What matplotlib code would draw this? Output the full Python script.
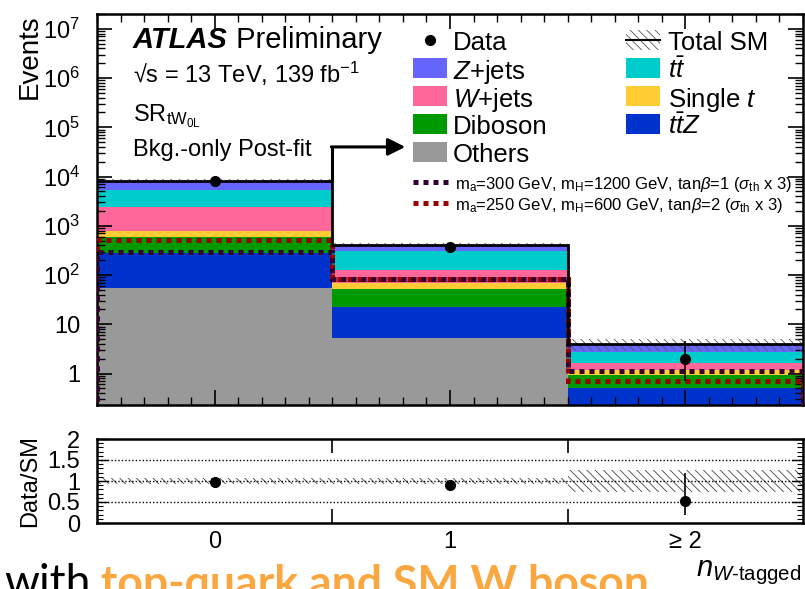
import matplotlib
matplotlib.use("Agg")
import matplotlib.pyplot as plt
import numpy as np
from matplotlib.patches import Rectangle
from matplotlib.lines import Line2D
from matplotlib.ticker import FixedLocator, MultipleLocator, NullFormatter, LogLocator

plt.rcParams['font.family'] = ['Liberation Sans', 'DejaVu Sans']
plt.rcParams['mathtext.fontset'] = 'custom'
plt.rcParams['mathtext.rm'] = 'Liberation Sans'
plt.rcParams['mathtext.it'] = 'Liberation Sans:italic'
plt.rcParams['mathtext.bf'] = 'Liberation Sans:bold'
plt.rcParams['hatch.linewidth'] = 0.6

# ---------------- data ----------------
categories = ["0", "1", "\u2265 2"]
others = [55.0, 5.3, 0.15]
ttz = [226.0, 17.2, 0.36]
diboson = [301.0, 30.5, 0.41]
single_t = [213.0, 16.0, 0.25]
wjets = [1605.0, 60.0, 0.48]
ttbar = [3000.0, 184.0, 1.10]
zjets = [2900.0, 101.0, 1.15]
data = [8200.0, 377.0, 2.0]
data_err_low = [91.0, 19.4, 1.29]
data_err_high = [91.0, 20.4, 2.64]
bkg_rel_unc = [0.06, 0.06, 0.27]
signal_ma300 = [293.0, 82.0, 1.11]
signal_ma250 = [505.0, 84.0, 0.70]

col_others = '#999999'
col_ttz = '#0033CC'
col_diboson = '#009900'
col_single_t = '#FFCC33'
col_wjets = '#FF6699'
col_ttbar = '#00CCCC'
col_zjets = '#6666FF'
col_sig300 = '#330033'
col_sig250 = '#990000'

W, H = 805, 589
def fx(px):
    return px / W
def fy(py):
    return 1 - py / H

fig = plt.figure(figsize=(8.05, 5.89), dpi=100)
ax = fig.add_axes([fx(97), fy(405), fx(803) - fx(97), fy(14) - fy(405)])
rax = fig.add_axes([fx(97), fy(523), fx(803) - fx(97), fy(439) - fy(523)])

x = np.arange(len(categories))
edges = np.arange(len(categories) + 1) - 0.5

stack = [(others, col_others), (ttz, col_ttz), (diboson, col_diboson),
         (single_t, col_single_t), (wjets, col_wjets), (ttbar, col_ttbar),
         (zjets, col_zjets)]
bottom = np.full(len(x), 1e-3)
for vals, c in stack:
    v = np.array(vals)
    ax.bar(x, v, bottom=bottom, width=1.0, color=c, lw=0, zorder=1)
    bottom = bottom + v
total = bottom - 1e-3
unc = np.array(bkg_rel_unc)

ax.bar(x, 2 * unc * total, bottom=total * (1 - unc), width=1.0, fill=False,
       hatch='\\\\\\\\', edgecolor='#555555', lw=0, zorder=2)
ax.stairs(signal_ma250, edges, baseline=1e-3, color=col_sig250, lw=3.6,
          linestyle=(0, (1, 1)), zorder=3)
ax.stairs(signal_ma300, edges, baseline=1e-3, color=col_sig300, lw=3.6,
          linestyle=(0, (1, 1)), zorder=3)
ax.stairs(total, edges, baseline=None, color='k', lw=2.0, zorder=4)
ax.errorbar(x, data, yerr=[data_err_low, data_err_high], fmt='o', color='k',
            ms=7, elinewidth=1.2, capsize=0, zorder=5)

# arrow
ya = 4.0e4
ax.plot([0.5, 0.5], [total[0], ya], color='k', lw=2.2, zorder=4, solid_capstyle='butt')
ax.annotate('', xy=(0.81, ya), xytext=(0.5 - 0.004, ya),
            arrowprops=dict(arrowstyle='-|>', lw=2.2, mutation_scale=26, color='k',
                            shrinkA=0, shrinkB=0), zorder=4)

ax.set_yscale('log')
ax.set_ylim(0.23, 2e7)
ax.set_xlim(-0.5, 2.5)
ax.set_xticks(x)
ax.xaxis.set_minor_locator(MultipleLocator(0.1))
ymaj = [1, 10, 1e2, 1e3, 1e4, 1e5, 1e6, 1e7]
ylab = ["1", "10", "$10^{2}$", "$10^{3}$", "$10^{4}$", "$10^{5}$", "$10^{6}$", "$10^{7}$"]
ax.yaxis.set_major_locator(FixedLocator(ymaj))
ax.set_yticklabels(ylab)
ax.yaxis.set_minor_locator(LogLocator(base=10, subs=np.arange(2, 10), numticks=20))
ax.yaxis.set_minor_formatter(NullFormatter())
ax.tick_params(which='both', direction='in', top=True, right=True, labelbottom=False)
ax.tick_params(which='major', length=11, width=1.2)
ax.tick_params(which='minor', length=6, width=1.0)
ax.tick_params(axis='y', which='major', labelsize=17, pad=12)
for s in ax.spines.values():
    s.set_linewidth(1.8)

# ratio
ratio = np.array(data) / total
rlo = np.array(data_err_low) / total
rhi = np.array(data_err_high) / total
rax.bar(x, 2 * unc, bottom=1 - unc, width=1.0, fill=False,
        hatch='\\\\\\\\', edgecolor='#444444', lw=0, zorder=1)
for yv in [0.5, 1.0, 1.5]:
    rax.axhline(yv, color='k', ls=(0, (1, 1.5)), lw=1.0, zorder=2)
rax.errorbar(x, ratio, yerr=[rlo, rhi], fmt='o', color='k', ms=7,
             elinewidth=1.2, capsize=0, zorder=5)
rax.set_xlim(-0.5, 2.5)
rax.set_ylim(0, 2)
rax.set_xticks([0.5, 1.5])
rax.set_xticklabels([])
rax.set_xticks(x, labels=categories, minor=True)
rax.set_yticks([0, 0.5, 1, 1.5, 2], labels=["0", "0.5", "1", "1.5", "2"])
rax.yaxis.set_minor_locator(MultipleLocator(0.1))
rax.tick_params(which='both', direction='in', top=True, right=True)
rax.tick_params(axis='x', which='major', length=10, width=1.2)
rax.tick_params(axis='x', which='minor', length=0, labelsize=17, pad=6)
rax.tick_params(axis='y', which='major', length=8, width=1.0, labelsize=17, pad=12)
rax.tick_params(axis='y', which='minor', length=4, width=0.8)
for s in rax.spines.values():
    s.set_linewidth(1.8)

# axis labels
fig.text(fx(30), fy(14), 'Events', rotation=90, ha='center', va='top', fontsize=20)
fig.text(fx(30), fy(481), 'Data/SM', rotation=90, ha='center', va='center', fontsize=17)
fig.text(fx(801), fy(576), r'$n_{W\text{-tagged}}$', ha='right', va='baseline', fontsize=21)

# ATLAS label
t_atlas = fig.text(fx(133), fy(48), 'ATLAS', fontsize=21, weight='bold', style='italic',
                   va='baseline')
ax.annotate(' Preliminary', xy=(1, 0), xycoords=t_atlas, va='bottom', ha='left',
            fontsize=21, annotation_clip=False)
fig.text(fx(133), fy(83), '\u221as = 13 TeV, 139 fb$^{-1}$', fontsize=17, va='baseline')
fig.text(fx(133), fy(121), r'SR$_{\mathrm{tW}_{\mathrm{0L}}}$', fontsize=17, va='baseline')
fig.text(fx(133), fy(156), 'Bkg.-only Post-fit', fontsize=17, va='baseline')

# legend
def add_box(px0, py, color):
    fig.add_artist(Rectangle((fx(px0), fy(py + 10)), fx(34), 20 / H, color=color,
                             transform=fig.transFigure, lw=0))

rows = [40, 68, 96, 124, 152]
left_items = [('Data', None), ('$Z$+jets', col_zjets), ('$W$+jets', col_wjets),
              ('Diboson', col_diboson), ('Others', col_others)]
right_items = [('Total SM', None), (r'$t\bar{t}$', col_ttbar), ('Single $t$', col_single_t),
               (r'$t\bar{t}Z$', col_ttz)]
for (lab, c), r in zip(left_items, rows):
    if c is None:
        fig.add_artist(Line2D([fx(430)], [fy(r)], marker='o', ms=7, color='k',
                              transform=fig.transFigure))
    else:
        add_box(413, r, c)
    fig.text(fx(453), fy(r), lab, fontsize=18.5, va='center_baseline')
for (lab, c), r in zip(right_items, rows):
    if c is None:
        fig.add_artist(Rectangle((fx(626), fy(r + 10)), fx(34), 20 / H, fill=False,
                                 hatch='\\\\\\\\', edgecolor='#555555', lw=0,
                                 transform=fig.transFigure))
        fig.add_artist(Line2D([fx(626), fx(660)], [fy(r), fy(r)], color='k', lw=1.5,
                              transform=fig.transFigure))
    else:
        add_box(626, r, c)
    fig.text(fx(668), fy(r), lab, fontsize=18.5, va='center_baseline')

for py, c, lab in [(182, col_sig300, r'm$_{\mathrm{a}}$=300 GeV, m$_{\mathrm{H}}$=1200 GeV, tan$\beta$=1 ($\sigma_{\mathrm{th}}$ x 3)'),
                   (203, col_sig250, r'm$_{\mathrm{a}}$=250 GeV, m$_{\mathrm{H}}$=600 GeV, tan$\beta$=2 ($\sigma_{\mathrm{th}}$ x 3)')]:
    fig.add_artist(Line2D([fx(413), fx(450)], [fy(py), fy(py)], color=c, lw=3.6,
                          linestyle=(0, (1, 1)), transform=fig.transFigure))
    fig.text(fx(455), fy(py), lab, fontsize=12, va='center_baseline')

# slide text cut at bottom
t_with = fig.text(fx(4), fy(596), 'with', fontsize=32, family='Lato', va='baseline')
ax.annotate(' top-quark and SM W boson', xy=(1, 0), xycoords=t_with, va='bottom',
            ha='left', fontsize=32, family='Lato', weight='bold', color='#F9A73E',
            annotation_clip=False)

fig.savefig('out.png', dpi=100)
